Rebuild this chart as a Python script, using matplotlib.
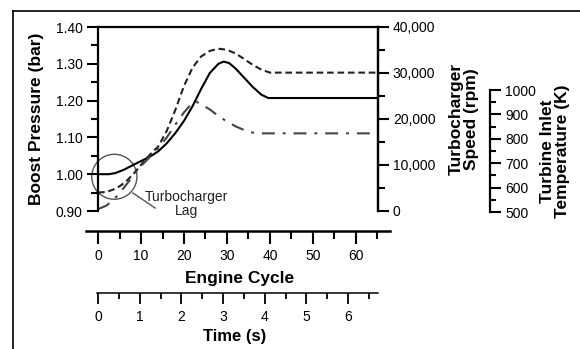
import matplotlib
matplotlib.use("Agg")
from matplotlib import pyplot as plt
from matplotlib.patches import Ellipse
from matplotlib.lines import Line2D

plt.rcParams['font.family'] = ['Liberation Sans', 'DejaVu Sans']

# boost pressure traces (engine cycle vs bar)
solid_cycle = [0, 2.5, 4, 6, 9, 12, 14, 16, 18, 20, 22, 24, 26, 28, 29.2, 30.5, 32, 34, 36, 38, 39.6, 65]
solid_bar = [1.000, 1.000, 1.003, 1.012, 1.030, 1.047, 1.062, 1.084, 1.112, 1.145, 1.185, 1.232, 1.275,
             1.300, 1.306, 1.302, 1.287, 1.262, 1.237, 1.216, 1.207, 1.207]

dash_cycle = [0, 2, 3.5, 5, 6.5, 8, 9.5, 11, 12.5, 14, 16, 18, 20, 22, 24, 26, 28, 30, 32, 34, 36, 38, 40, 65]
dash_bar = [0.950, 0.952, 0.958, 0.967, 0.980, 0.998, 1.018, 1.040, 1.058, 1.075, 1.118, 1.175, 1.240,
            1.290, 1.320, 1.335, 1.341, 1.338, 1.328, 1.313, 1.297, 1.284, 1.276, 1.276]

dashdot_cycle = [0, 2, 4, 6, 8, 10, 12, 14, 16, 18, 20, 21.5, 22.7, 24, 26, 28, 30, 32, 34, 36, 37, 65]
dashdot_bar = [0.905, 0.915, 0.935, 0.963, 0.993, 1.022, 1.046, 1.070, 1.100, 1.135, 1.168, 1.188, 1.198,
               1.190, 1.176, 1.158, 1.143, 1.130, 1.120, 1.113, 1.111, 1.111]

pressure_ticks = [0.90, 1.00, 1.10, 1.20, 1.30, 1.40]
speed_ticks = [0, 10000, 20000, 30000, 40000]
speed_labels = ['0', '10,000', '20,000', '30,000', '40,000']
temp_ticks = [500, 600, 700, 800, 900, 1000]
cycle_ticks = [0, 10, 20, 30, 40, 50, 60]
time_ticks = [0, 1, 2, 3, 4, 5, 6]

W, H = 580, 349


def box(x0, y0, x1, y1):
    # pixel box (top-left origin) -> figure fraction rect
    return [x0 / W, 1 - y1 / H, (x1 - x0) / W, (y1 - y0) / H]


fig = plt.figure(figsize=(W / 100, H / 100), dpi=100)

# frame around the figure
fig.add_artist(Line2D([12.5 / W, 12.5 / W], [0, 1 - 11 / H], transform=fig.transFigure, color='black', lw=1.2))
fig.add_artist(Line2D([12.5 / W, 1], [1 - 11 / H, 1 - 11 / H], transform=fig.transFigure, color='black', lw=1.2))

ax = fig.add_axes(box(98, 27, 377.5, 211))
ax.plot(solid_cycle, solid_bar, color='black', lw=1.5)
ax.plot(dash_cycle, dash_bar, color='#222222', lw=1.5, dashes=(3.2, 1.8))
ax.plot(dashdot_cycle, dashdot_bar, color='#444444', lw=1.5, dashes=(6.2, 3.8, 1.4, 3.8))
ax.set_xlim(0, 65)
ax.set_ylim(0.90, 1.40)
ax.set_xticks([])
ax.set_yticks(pressure_ticks)
ax.set_yticklabels(['%.2f' % v for v in pressure_ticks])
ax.set_yticks([0.95, 1.05, 1.15, 1.25, 1.35], minor=True)
ax.tick_params(axis='y', which='major', length=8, width=1.5, labelsize=10, pad=3)
ax.tick_params(axis='y', which='minor', length=5, width=1.5)
ax.spines['bottom'].set_visible(False)
for s in ['left', 'top', 'right']:
    ax.spines[s].set_linewidth(1.6)

# turbocharger lag circle + label
ax.add_patch(Ellipse((3.8, 0.993), 10.5, 0.1223, fill=False, edgecolor='#555555', lw=1.0, clip_on=False))
ax.plot([8.1, 13.3], [0.949, 0.908], color='#555555', lw=1.0, clip_on=False)
ax.text(20.6, 0.918, 'Turbocharger\nLag', ha='center', va='center', fontsize=10,
        linespacing=1.0, color='#222222', clip_on=False)

axr = ax.twinx()
axr.set_ylim(0, 40000)
axr.set_yticks(speed_ticks)
axr.set_yticklabels(speed_labels)
axr.set_yticks([5000, 15000, 25000, 35000], minor=True)
axr.tick_params(axis='y', which='major', length=8, width=1.5, labelsize=10, pad=3)
axr.tick_params(axis='y', which='minor', length=5, width=1.5)
for s in ['left', 'top', 'bottom']:
    axr.spines[s].set_visible(False)
axr.spines['right'].set_linewidth(1.6)

# engine cycle axis
axc = fig.add_axes(box(86, 230, 390, 230.7))
axc.set_xlim((86 - 98) / 4.3, (390 - 98) / 4.3)
axc.patch.set_visible(False)
for s in ['left', 'top', 'right']:
    axc.spines[s].set_visible(False)
axc.spines['bottom'].set_linewidth(1.8)
axc.set_yticks([])
axc.set_xticks(cycle_ticks)
axc.set_xticks([5, 15, 25, 35, 45, 55, 65], minor=True)
axc.tick_params(axis='x', which='major', length=9.5, width=1.5, labelsize=10, pad=4)
axc.tick_params(axis='x', which='minor', length=5.5, width=1.5)

# time axis
axt = fig.add_axes(box(97, 292.5, 378, 293))
axt.set_xlim((97 - 98) / 41.67, (378 - 98) / 41.67)
axt.patch.set_visible(False)
for s in ['left', 'top', 'right']:
    axt.spines[s].set_visible(False)
axt.spines['bottom'].set_linewidth(1.1)
axt.set_yticks([])
axt.set_xticks(time_ticks)
axt.set_xticks([0.5, 1.5, 2.5, 3.5, 4.5, 5.5, 6.5], minor=True)
axt.tick_params(axis='x', which='major', length=8, width=1.3, labelsize=10, pad=4)
axt.tick_params(axis='x', which='minor', length=4.3, width=1.3)

# turbine inlet temperature axis
axT = fig.add_axes(box(489, 90, 490, 212))
axT.patch.set_visible(False)
axT.set_ylim(500, 1000)
axT.set_xticks([])
for s in ['left', 'top', 'bottom']:
    axT.spines[s].set_visible(False)
axT.spines['right'].set_linewidth(1.6)
axT.yaxis.tick_right()
axT.set_yticks(temp_ticks)
axT.set_yticks([550, 650, 750, 850, 950], minor=True)
axT.tick_params(axis='y', which='major', length=8, width=1.5, labelsize=10, pad=3)
axT.tick_params(axis='y', which='minor', length=4, width=1.5)

# axis titles
fig.text(37 / W, 1 - 119 / H, 'Boost Pressure (bar)', rotation=90, ha='center', va='center',
         fontsize=12.5, fontweight='bold')
fig.text(464 / W, 1 - 119 / H, 'Turbocharger\nSpeed (rpm)', rotation=90, ha='center', va='center',
         fontsize=12.5, fontweight='bold', linespacing=1.0)
fig.text(555 / W, 1 - 151 / H, 'Turbine Inlet\nTemperature (K)', rotation=90, ha='center', va='center',
         fontsize=12.5, fontweight='bold', linespacing=1.0)
fig.text(240 / W, 1 - 278 / H, 'Engine Cycle', ha='center', va='center', fontsize=12.5, fontweight='bold')
fig.text(235 / W, 1 - 337 / H, 'Time (s)', ha='center', va='center', fontsize=12, fontweight='bold')

fig.savefig('out.png', dpi=100)
